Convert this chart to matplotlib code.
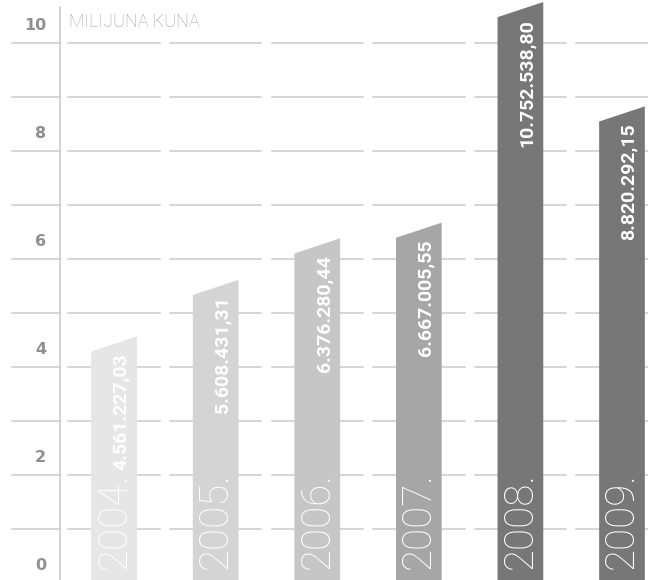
import numpy as np
import matplotlib.pyplot as plt
from matplotlib.patches import Polygon

# data (milijuna kuna)
years = ['2004.', '2005.', '2006.', '2007.', '2008.', '2009.']
values = [4.56122703, 5.60843131, 6.37628044, 6.66700555, 10.75253880, 8.82029215]
value_labels = ['4.561.227,03', '5.608.431,31', '6.376.280,44',
                '6.667.005,55', '10.752.538,80', '8.820.292,15']
bar_colors = ['#e6e6e6', '#d4d4d4', '#c6c6c6', '#a6a6a6', '#777777', '#777777']
yticks = [0, 2, 4, 6, 8, 10]
unit_label = 'MILIJUNA KUNA'

fig = plt.figure(figsize=(6.48, 5.8), dpi=100)
ax = fig.add_axes([0, 0, 1, 1])
ax.set_xlim(-1.123, 5.256)
ax.set_ylim(0.05, 10.79)
ax.axis('off')

x = np.arange(len(values))
w = 0.45      # bar width
slant = 0.28  # drop of the top-left corner
seg = 0.9     # width of one grid segment

# broken grid lines, one segment per bar plus one left of the axis
for g in range(1, 11):
    ax.plot([-1.0, -0.53], [g, g], color='#cccccc', lw=1.1, zorder=1)
    for xi in x:
        ax.plot([xi - seg / 2, xi + seg / 2], [g, g], color='#cccccc', lw=1.1, zorder=1)

# vertical axis
ax.plot([-0.53, -0.53], [0, 10.66], color='#c8c8c8', lw=1.1, zorder=1)

# tick labels sit a little above their grid line
for t in yticks:
    ax.text(-0.67, t + 0.32, str(t), ha='right', va='center', fontsize=11.5,
            fontweight='bold', color='#8f8f8f', family='DejaVu Sans')

ax.text(-0.443, 10.38, unit_label, ha='left', va='center', fontsize=13,
        color='#a0a0a0', family='Roboto', fontweight='light')

for xi, v, c, yr, vl in zip(x, values, bar_colors, years, value_labels):
    x0, x1 = xi - w / 2, xi + w / 2
    poly = Polygon([(x0, 0), (x1, 0), (x1, v), (x0, v - slant)],
                   closed=True, facecolor=c, edgecolor='none', zorder=2)
    ax.add_patch(poly)
    ax.text(xi, 0.25, yr, rotation=90, ha='center', va='bottom', fontsize=29,
            color='white', family='Roboto', fontweight='light', zorder=3)
    ax.text(x1 - 0.07, v - slant - 0.03, vl, rotation=90, ha='right', va='top',
            fontsize=14, color='white', family='Roboto', fontweight='bold', zorder=3)

fig.savefig('out.png', dpi=100)
